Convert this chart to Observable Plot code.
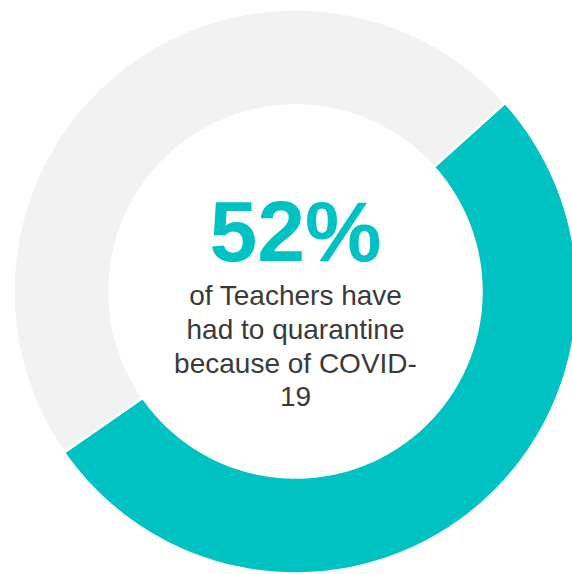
<!DOCTYPE html>
<html>
<head>
<meta charset="utf-8">
<script src="https://cdn.jsdelivr.net/npm/d3@7"></script>
<script src="https://cdn.jsdelivr.net/npm/@observablehq/plot@0.6"></script>
<style>
  html, body { margin: 0; padding: 0; background: #ffffff; }
  #chart svg { display: block; }
</style>
</head>
<body>
<div id="chart"></div>
<script>
// ---- data ----
const labels = ["Had to quarantine", "Did not"];
const values = [52, 48];
const colors = ["#00C2C2", "#F2F2F2"];
const headline = "52%";
const subtitle = "of Teachers have\nhad to quarantine\nbecause of COVID-\n19";

// ---- layout (pixels) ----
const W = 572, H = 574;
const cx = 295, cy = 291, R = 282;       // centre and outer radius in px
const innerRatio = 186 / 282;              // inner radius relative to outer
const startDeg = 48;                       // first slice starts here (clockwise from top)

// data space: unit = outer radius, centre at (0,0), y up
const xDomain = [-cx / R, (W - cx) / R];
const yDomain = [-(H - cy) / R, cy / R];
const py = (p) => (cy - p) / R;

// slice angles from d3.pie
const pie = d3.pie().sort(null)
  .startAngle(startDeg * Math.PI / 180)
  .endAngle(startDeg * Math.PI / 180 + 2 * Math.PI);
const arcs = pie(values);

const pts = [];
arcs.forEach((a, i) => {
  const n = 180;
  const poly = [];
  for (let k = 0; k <= n; k++) {
    const t = a.startAngle + (a.endAngle - a.startAngle) * k / n;
    poly.push({x: Math.sin(t), y: Math.cos(t)});
  }
  for (let k = n; k >= 0; k--) {
    const t = a.startAngle + (a.endAngle - a.startAngle) * k / n;
    poly.push({x: innerRatio * Math.sin(t), y: innerRatio * Math.cos(t)});
  }
  poly.push(poly[0]);
  poly.forEach(p => pts.push({...p, label: labels[i]}));
});

const chart = Plot.plot({
  width: W,
  height: H,
  margin: 0,
  x: {domain: xDomain, axis: null},
  y: {domain: yDomain, axis: null},
  color: {domain: labels, range: colors},
  style: {background: "#ffffff"},
  marks: [
    Plot.line(pts, {x: "x", y: "y", z: "label", fill: "label", stroke: "#ffffff", strokeWidth: 2.5, curve: "linear"}),
    Plot.text([headline], {
      x: 0, y: py(260), text: d => d, lineAnchor: "bottom",
      fill: colors[0], fontSize: 86, fontWeight: "bold",
      fontFamily: "Liberation Sans, Arial, sans-serif", textAnchor: "middle"
    }),
    Plot.text([subtitle], {
      x: 0, y: py(281), text: d => d, lineAnchor: "top", lineHeight: 1.2,
      fill: "#3a3a3a", fontSize: 28,
      fontFamily: "Liberation Sans, Arial, sans-serif", textAnchor: "middle"
    })
  ]
});
document.getElementById("chart").appendChild(chart);
</script>
</body>
</html>
